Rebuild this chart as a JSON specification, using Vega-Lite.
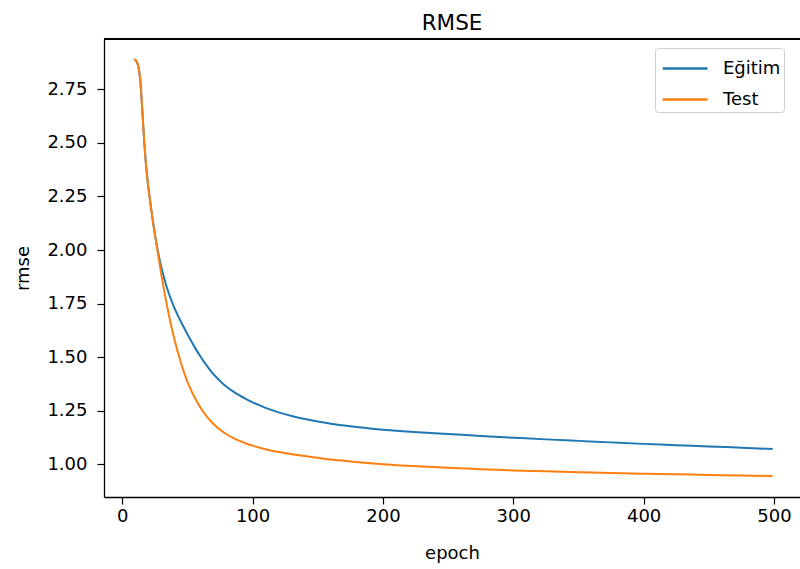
{
  "$schema": "https://vega.github.io/schema/vega-lite/v6.json",
  "width": 696,
  "height": 458,
  "autosize": {"type": "none"},
  "padding": {"left": 104, "top": 39, "right": 0, "bottom": 72},
  "background": "white",
  "title": {"text": "RMSE", "fontSize": 21.5, "font": "DejaVu Sans", "fontWeight": "normal", "color": "black", "anchor": "middle", "baseline": "alphabetic", "offset": 11, "dy": 24, "frame": "group"},
  "config": {
    "view": {"stroke": null},
    "axis": {
      "labelFont": "DejaVu Sans", "labelFontSize": 18, "labelColor": "black",
      "titleFont": "DejaVu Sans", "titleFontSize": 18, "titleFontWeight": "normal", "titleColor": "black",
      "domainColor": "black", "domainWidth": 1.3, "tickColor": "black", "tickWidth": 1.2, "tickSize": 7, "grid": false
    }
  },
  "data": {"values": [
    {"epoch": 9, "rmse": 2.89, "series": "Eğitim"},
    {"epoch": 10, "rmse": 2.887, "series": "Eğitim"},
    {"epoch": 11, "rmse": 2.88, "series": "Eğitim"},
    {"epoch": 12, "rmse": 2.865, "series": "Eğitim"},
    {"epoch": 13, "rmse": 2.835, "series": "Eğitim"},
    {"epoch": 14, "rmse": 2.78, "series": "Eğitim"},
    {"epoch": 15, "rmse": 2.69, "series": "Eğitim"},
    {"epoch": 16, "rmse": 2.59, "series": "Eğitim"},
    {"epoch": 17, "rmse": 2.495, "series": "Eğitim"},
    {"epoch": 18, "rmse": 2.415, "series": "Eğitim"},
    {"epoch": 19, "rmse": 2.35, "series": "Eğitim"},
    {"epoch": 20, "rmse": 2.295, "series": "Eğitim"},
    {"epoch": 22, "rmse": 2.2, "series": "Eğitim"},
    {"epoch": 24, "rmse": 2.115, "series": "Eğitim"},
    {"epoch": 26, "rmse": 2.04, "series": "Eğitim"},
    {"epoch": 28, "rmse": 1.975, "series": "Eğitim"},
    {"epoch": 30, "rmse": 1.92, "series": "Eğitim"},
    {"epoch": 32, "rmse": 1.872, "series": "Eğitim"},
    {"epoch": 34, "rmse": 1.83, "series": "Eğitim"},
    {"epoch": 37, "rmse": 1.776, "series": "Eğitim"},
    {"epoch": 40, "rmse": 1.73, "series": "Eğitim"},
    {"epoch": 43, "rmse": 1.69, "series": "Eğitim"},
    {"epoch": 47, "rmse": 1.642, "series": "Eğitim"},
    {"epoch": 50, "rmse": 1.607, "series": "Eğitim"},
    {"epoch": 53, "rmse": 1.574, "series": "Eğitim"},
    {"epoch": 56, "rmse": 1.542, "series": "Eğitim"},
    {"epoch": 60, "rmse": 1.503, "series": "Eğitim"},
    {"epoch": 64, "rmse": 1.467, "series": "Eğitim"},
    {"epoch": 68, "rmse": 1.435, "series": "Eğitim"},
    {"epoch": 72, "rmse": 1.407, "series": "Eğitim"},
    {"epoch": 76, "rmse": 1.383, "series": "Eğitim"},
    {"epoch": 80, "rmse": 1.362, "series": "Eğitim"},
    {"epoch": 85, "rmse": 1.34, "series": "Eğitim"},
    {"epoch": 90, "rmse": 1.321, "series": "Eğitim"},
    {"epoch": 95, "rmse": 1.304, "series": "Eğitim"},
    {"epoch": 100, "rmse": 1.289, "series": "Eğitim"},
    {"epoch": 110, "rmse": 1.263, "series": "Eğitim"},
    {"epoch": 120, "rmse": 1.242, "series": "Eğitim"},
    {"epoch": 130, "rmse": 1.225, "series": "Eğitim"},
    {"epoch": 140, "rmse": 1.211, "series": "Eğitim"},
    {"epoch": 150, "rmse": 1.199, "series": "Eğitim"},
    {"epoch": 160, "rmse": 1.189, "series": "Eğitim"},
    {"epoch": 175, "rmse": 1.177, "series": "Eğitim"},
    {"epoch": 190, "rmse": 1.167, "series": "Eğitim"},
    {"epoch": 200, "rmse": 1.161, "series": "Eğitim"},
    {"epoch": 215, "rmse": 1.154, "series": "Eğitim"},
    {"epoch": 230, "rmse": 1.148, "series": "Eğitim"},
    {"epoch": 250, "rmse": 1.141, "series": "Eğitim"},
    {"epoch": 275, "rmse": 1.132, "series": "Eğitim"},
    {"epoch": 300, "rmse": 1.124, "series": "Eğitim"},
    {"epoch": 325, "rmse": 1.116, "series": "Eğitim"},
    {"epoch": 350, "rmse": 1.109, "series": "Eğitim"},
    {"epoch": 375, "rmse": 1.102, "series": "Eğitim"},
    {"epoch": 400, "rmse": 1.095, "series": "Eğitim"},
    {"epoch": 425, "rmse": 1.089, "series": "Eğitim"},
    {"epoch": 450, "rmse": 1.083, "series": "Eğitim"},
    {"epoch": 475, "rmse": 1.077, "series": "Eğitim"},
    {"epoch": 499, "rmse": 1.071, "series": "Eğitim"},
    {"epoch": 9, "rmse": 2.89, "series": "Test"},
    {"epoch": 10, "rmse": 2.887, "series": "Test"},
    {"epoch": 11, "rmse": 2.88, "series": "Test"},
    {"epoch": 12, "rmse": 2.865, "series": "Test"},
    {"epoch": 13, "rmse": 2.835, "series": "Test"},
    {"epoch": 14, "rmse": 2.78, "series": "Test"},
    {"epoch": 15, "rmse": 2.69, "series": "Test"},
    {"epoch": 16, "rmse": 2.59, "series": "Test"},
    {"epoch": 17, "rmse": 2.495, "series": "Test"},
    {"epoch": 18, "rmse": 2.415, "series": "Test"},
    {"epoch": 19, "rmse": 2.35, "series": "Test"},
    {"epoch": 20, "rmse": 2.295, "series": "Test"},
    {"epoch": 22, "rmse": 2.2, "series": "Test"},
    {"epoch": 24, "rmse": 2.115, "series": "Test"},
    {"epoch": 26, "rmse": 2.035, "series": "Test"},
    {"epoch": 28, "rmse": 1.96, "series": "Test"},
    {"epoch": 30, "rmse": 1.885, "series": "Test"},
    {"epoch": 32, "rmse": 1.815, "series": "Test"},
    {"epoch": 34, "rmse": 1.75, "series": "Test"},
    {"epoch": 36, "rmse": 1.69, "series": "Test"},
    {"epoch": 38, "rmse": 1.635, "series": "Test"},
    {"epoch": 40, "rmse": 1.585, "series": "Test"},
    {"epoch": 42, "rmse": 1.538, "series": "Test"},
    {"epoch": 44, "rmse": 1.495, "series": "Test"},
    {"epoch": 46, "rmse": 1.455, "series": "Test"},
    {"epoch": 48, "rmse": 1.418, "series": "Test"},
    {"epoch": 50, "rmse": 1.385, "series": "Test"},
    {"epoch": 54, "rmse": 1.33, "series": "Test"},
    {"epoch": 58, "rmse": 1.285, "series": "Test"},
    {"epoch": 62, "rmse": 1.246, "series": "Test"},
    {"epoch": 66, "rmse": 1.214, "series": "Test"},
    {"epoch": 70, "rmse": 1.188, "series": "Test"},
    {"epoch": 75, "rmse": 1.161, "series": "Test"},
    {"epoch": 80, "rmse": 1.14, "series": "Test"},
    {"epoch": 85, "rmse": 1.123, "series": "Test"},
    {"epoch": 90, "rmse": 1.109, "series": "Test"},
    {"epoch": 95, "rmse": 1.097, "series": "Test"},
    {"epoch": 100, "rmse": 1.087, "series": "Test"},
    {"epoch": 110, "rmse": 1.07, "series": "Test"},
    {"epoch": 120, "rmse": 1.057, "series": "Test"},
    {"epoch": 130, "rmse": 1.047, "series": "Test"},
    {"epoch": 140, "rmse": 1.038, "series": "Test"},
    {"epoch": 150, "rmse": 1.03, "series": "Test"},
    {"epoch": 160, "rmse": 1.022, "series": "Test"},
    {"epoch": 175, "rmse": 1.013, "series": "Test"},
    {"epoch": 190, "rmse": 1.005, "series": "Test"},
    {"epoch": 200, "rmse": 1.0, "series": "Test"},
    {"epoch": 215, "rmse": 0.994, "series": "Test"},
    {"epoch": 230, "rmse": 0.989, "series": "Test"},
    {"epoch": 250, "rmse": 0.983, "series": "Test"},
    {"epoch": 275, "rmse": 0.977, "series": "Test"},
    {"epoch": 300, "rmse": 0.971, "series": "Test"},
    {"epoch": 325, "rmse": 0.967, "series": "Test"},
    {"epoch": 350, "rmse": 0.963, "series": "Test"},
    {"epoch": 375, "rmse": 0.959, "series": "Test"},
    {"epoch": 400, "rmse": 0.956, "series": "Test"},
    {"epoch": 425, "rmse": 0.953, "series": "Test"},
    {"epoch": 450, "rmse": 0.95, "series": "Test"},
    {"epoch": 475, "rmse": 0.947, "series": "Test"},
    {"epoch": 499, "rmse": 0.945, "series": "Test"}
  ]},
  "layer": [
    {
      "mark": {"type": "line", "strokeWidth": 2, "interpolate": "monotone"},
      "encoding": {
        "x": {"field": "epoch", "type": "quantitative",
              "scale": {"domain": [-14, 520], "nice": false, "zero": false},
              "axis": {"values": [0, 100, 200, 300, 400, 500], "title": "epoch", "labelPadding": 3, "titlePadding": 19, "labelFlush": false}},
        "y": {"field": "rmse", "type": "quantitative",
              "scale": {"domain": [0.847, 2.985], "nice": false, "zero": false},
              "axis": {"values": [1.0, 1.25, 1.5, 1.75, 2.0, 2.25, 2.5, 2.75], "format": ".2f", "title": "rmse", "labelPadding": 10, "titlePadding": 14}},
        "color": {"field": "series", "type": "nominal",
                  "scale": {"domain": ["Eğitim", "Test"], "range": ["#1f77b4", "#ff7f0e"]},
                  "legend": {"title": null, "orient": "none", "legendX": 551, "legendY": 9,
                             "padding": 3, "strokeColor": "#d0d0d0", "fillColor": "white", "cornerRadius": 3,
                             "labelFont": "DejaVu Sans", "labelFontSize": 18, "labelColor": "black",
                             "labelExpr": "datum.label + '\u00a0\u00a0'",
                             "symbolType": "M-0.8,0H2.0", "symbolSize": 1024, "symbolStrokeWidth": 2.5,
                             "labelOffset": 30, "rowPadding": 4}}
      }
    },
    {
      "mark": {"type": "rule", "color": "black", "strokeWidth": 1.3},
      "encoding": {"y": {"datum": 2.985}}
    }
  ]
}
